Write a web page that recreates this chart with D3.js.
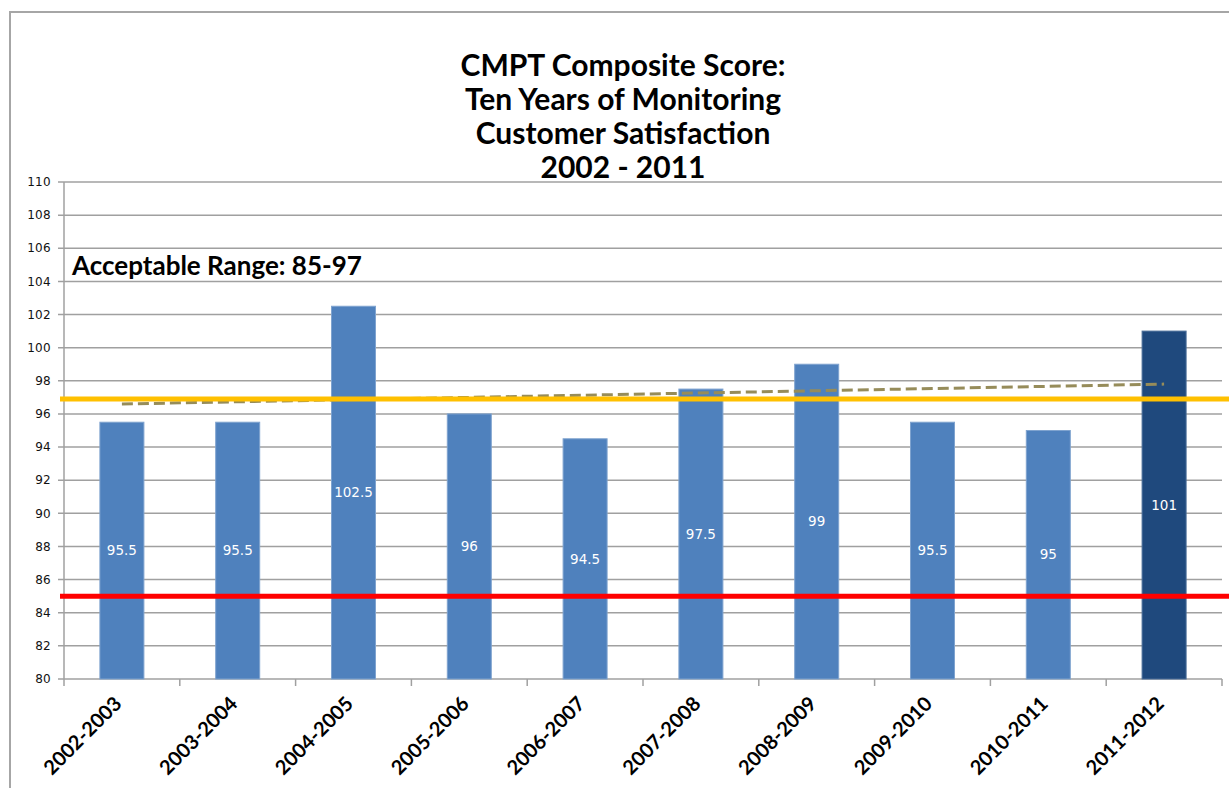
<!DOCTYPE html>
<html>
<head>
<meta charset="utf-8">
<script src="https://cdn.jsdelivr.net/npm/d3@7"></script>
<style>
  body { margin: 0; background: #fff; }
  svg { display: block; }
</style>
</head>
<body>
<div id="chart"></div>
<script>
// values
var categories = ["2002-2003", "2003-2004", "2004-2005", "2005-2006", "2006-2007",
                  "2007-2008", "2008-2009", "2009-2010", "2010-2011", "2011-2012"];
var scores = [95.5, 95.5, 102.5, 96, 94.5, 97.5, 99, 95.5, 95, 101];
var yTicks = [80, 82, 84, 86, 88, 90, 92, 94, 96, 98, 100, 102, 104, 106, 108, 110];
var lowerLimit = 85;
var upperLimit = 96.9;
var trendEnds = [96.6, 97.8];
var titleLines = ["CMPT Composite Score:", "Ten Years of Monitoring", "Customer Satisfaction", "2002 - 2011"];

var initialWidth = 1229,
    initialHeight = 788,
    margin = { top: 182, left: 64, bottom: 109, right: 7 },
    width = initialWidth - margin.left - margin.right,
    height = initialHeight - margin.top - margin.bottom;

var svg = d3.select('#chart').append('svg')
    .attr('width', initialWidth)
    .attr('height', initialHeight);

// outer chart border
svg.append('path')
    .attr('d', 'M10,' + (initialHeight + 5) + ' L10,12 L' + (initialWidth + 5) + ',12')
    .attr('fill', 'none')
    .attr('stroke', '#a6a6a6')
    .attr('stroke-width', 2);

var g = svg.append('g')
    .attr('transform', 'translate(' + margin.left + ',' + margin.top + ')');

var x = d3.scaleBand()
    .domain(categories)
    .range([0, width])
    .paddingInner(0.62)
    .paddingOuter(0.31);

var xCat = d3.scaleBand()
    .domain(categories)
    .range([0, width]);

var y = d3.scaleLinear()
    .domain([80, 110])
    .range([height, 0]);

// gridlines + y axis
g.selectAll('.grid')
    .data(yTicks)
    .join('line')
    .attr('class', 'grid')
    .attr('x1', -6)
    .attr('x2', width)
    .attr('y1', d => y(d))
    .attr('y2', d => y(d))
    .attr('stroke', '#a0a0a0')
    .attr('stroke-width', 1.5);

g.append('line')
    .attr('x1', 0).attr('x2', 0)
    .attr('y1', 0).attr('y2', height)
    .attr('stroke', '#a0a0a0')
    .attr('stroke-width', 1.5);

g.selectAll('.ylab')
    .data(yTicks)
    .join('text')
    .attr('class', 'ylab')
    .attr('x', -13)
    .attr('y', d => y(d))
    .attr('dy', '0.35em')
    .attr('text-anchor', 'end')
    .style('font-family', 'DejaVu Sans')
    .style('font-size', '12px')
    .style('letter-spacing', '0.3px')
    .attr('fill', '#111')
    .text(d => d);

// x axis ticks at category boundaries
var tickPos = categories.map(d => xCat(d)).concat([width]);
g.selectAll('.xtick')
    .data(tickPos)
    .join('line')
    .attr('class', 'xtick')
    .attr('x1', d => d).attr('x2', d => d)
    .attr('y1', height).attr('y2', height + 7)
    .attr('stroke', '#a0a0a0')
    .attr('stroke-width', 1.5);

g.selectAll('.xlab')
    .data(categories)
    .join('text')
    .attr('class', 'xlab')
    .attr('transform', d => 'translate(' + (x(d) + x.bandwidth() / 2 + 1) + ',' + (height + 26) + ') rotate(-45)')
    .attr('text-anchor', 'end')
    .style('font-family', 'Lato')
    .style('font-weight', 'bold')
    .style('font-size', '20px')
    .attr('fill', '#000')
    .text(d => d);

// bars
g.selectAll('rect')
    .data(categories)
    .join('rect')
    .attr('x', d => x(d))
    .attr('width', x.bandwidth())
    .attr('y', (d, i) => y(scores[i]))
    .attr('height', (d, i) => height - y(scores[i]))
    .attr('fill', (d, i) => i === categories.length - 1 ? '#1f497d' : '#4f81bd')
    .attr('stroke', (d, i) => i === categories.length - 1 ? '#4a6d98' : '#7fa3cf')
    .attr('stroke-width', 1);

g.selectAll('.vlab')
    .data(categories)
    .join('text')
    .attr('class', 'vlab')
    .attr('x', d => x(d) + x.bandwidth() / 2)
    .attr('y', (d, i) => (y(scores[i]) + height) / 2)
    .attr('dy', '0.35em')
    .attr('text-anchor', 'middle')
    .style('font-family', 'DejaVu Sans')
    .style('font-size', '13.5px')
    .attr('fill', '#fff')
    .text((d, i) => scores[i]);

// linear trendline (dashed)
var first = categories[0], last = categories[categories.length - 1];
g.append('line')
    .attr('x1', x(first) + x.bandwidth() / 2)
    .attr('x2', x(last) + x.bandwidth() / 2)
    .attr('y1', y(trendEnds[0]))
    .attr('y2', y(trendEnds[1]))
    .attr('stroke', '#968c5a')
    .attr('stroke-width', 3)
    .attr('stroke-dasharray', '11,5');

// acceptable range limits
g.append('line')
    .attr('x1', -4).attr('x2', initialWidth)
    .attr('y1', y(upperLimit)).attr('y2', y(upperLimit))
    .attr('stroke', '#ffc000')
    .attr('stroke-width', 5);

g.append('line')
    .attr('x1', -4).attr('x2', initialWidth)
    .attr('y1', y(lowerLimit)).attr('y2', y(lowerLimit))
    .attr('stroke', '#ff0000')
    .attr('stroke-width', 5);

g.append('text')
    .attr('x', 8)
    .attr('y', 93)
    .style('font-family', 'Lato')
    .style('font-weight', 'bold')
    .style('font-size', '26px')
    .attr('fill', '#000')
    .text('Acceptable Range: 85-97');

// title
svg.append('g').selectAll('text')
    .data(titleLines)
    .join('text')
    .attr('x', 623)
    .attr('y', (d, i) => 76 + i * 34)
    .attr('text-anchor', 'middle')
    .style('font-family', 'Lato')
    .style('font-weight', 'bold')
    .style('font-size', '30px')
    .attr('fill', '#000')
    .text(d => d);
</script>
</body>
</html>
